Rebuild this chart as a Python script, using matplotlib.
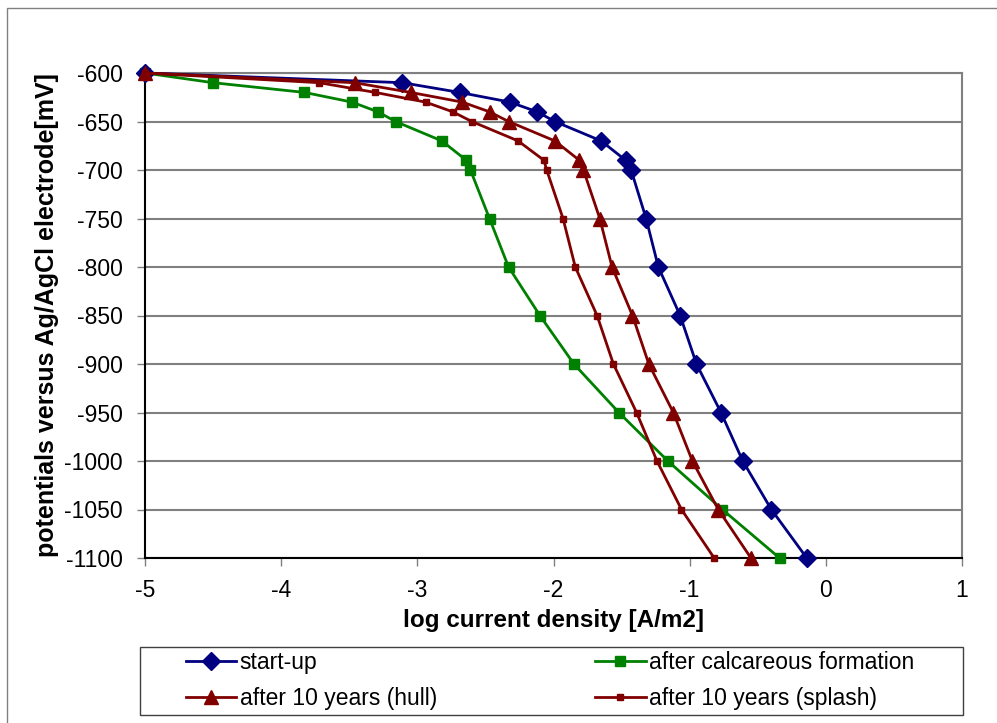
import matplotlib
matplotlib.use("Agg")
import matplotlib.pyplot as plt
from matplotlib.patches import Rectangle

plt.rcParams['font.family'] = ['Liberation Sans', 'DejaVu Sans']
plt.rcParams['axes.unicode_minus'] = False

# ----------------------
# Datos
# ----------------------
startup_x = [-5.0, -3.11, -2.69, -2.32, -2.12, -1.99, -1.65, -1.47, -1.43, -1.32,
             -1.23, -1.07, -0.95, -0.77, -0.61, -0.40, -0.14]
startup_y = [-600, -610, -620, -630, -640, -650, -670, -690, -700, -750,
             -800, -850, -900, -950, -1000, -1050, -1100]

calc_x = [-5.0, -4.50, -3.83, -3.48, -3.29, -3.16, -2.82, -2.64, -2.61, -2.47,
          -2.33, -2.10, -1.85, -1.52, -1.16, -0.76, -0.34]
calc_y = [-600, -610, -620, -630, -640, -650, -670, -690, -700, -750,
          -800, -850, -900, -950, -1000, -1050, -1100]

hull_x = [-5.0, -3.46, -3.05, -2.67, -2.47, -2.33, -1.99, -1.81, -1.78, -1.66,
          -1.57, -1.42, -1.30, -1.12, -0.98, -0.79, -0.55]
hull_y = [-600, -610, -620, -630, -640, -650, -670, -690, -700, -750,
          -800, -850, -900, -950, -1000, -1050, -1100]

splash_x = [-5.0, -3.72, -3.31, -2.94, -2.74, -2.60, -2.26, -2.07, -2.05, -1.93,
            -1.84, -1.68, -1.56, -1.39, -1.24, -1.06, -0.82]
splash_y = [-600, -610, -620, -630, -640, -650, -670, -690, -700, -750,
            -800, -850, -900, -950, -1000, -1050, -1100]

x_ticks = [-5, -4, -3, -2, -1, 0, 1]
y_ticks = list(range(-1100, -599, 50))

# ----------------------
# Figura
# ----------------------
W, H = 997, 723
fig = plt.figure(figsize=(W / 100, H / 100), dpi=100)
ax = fig.add_axes([145 / W, 1 - 558 / H, (962 - 145) / W, (558 - 73) / H])

# marco exterior del area del grafico
fig.patches.append(Rectangle((7 / W, -0.1), 1.1, 1 - 8 / H + 0.1,
                             transform=fig.transFigure, fill=False,
                             edgecolor="#808080", lw=1.0, zorder=0))
# marco de la leyenda
fig.patches.append(Rectangle((140 / W, 1 - 715 / H), 823 / W, 68 / H,
                             transform=fig.transFigure, fill=False,
                             edgecolor="#404040", lw=1.0, zorder=0))

ax.plot(startup_x, startup_y, color="#000080", lw=2, marker="D", ms=9,
        label="start-up", zorder=4, clip_on=False)
ax.plot(hull_x, hull_y, color="#800000", lw=2, marker="^", ms=10,
        label="after 10 years (hull)", zorder=4, clip_on=False)
ax.plot(calc_x, calc_y, color="#008000", lw=2, marker="s", ms=7,
        label="after calcareous formation", zorder=3, clip_on=False)
ax.plot(splash_x, splash_y, color="#800000", lw=2, marker="s", ms=5,
        label="after 10 years (splash)", zorder=4, clip_on=False)

ax.set_xlim(-5, 1)
ax.set_ylim(-1100, -600)
ax.set_xticks(x_ticks)
ax.set_yticks(y_ticks)
ax.tick_params(axis="both", labelsize=16.5, length=6, color="#808080", width=1)
ax.tick_params(axis="y", pad=10)
ax.tick_params(axis="x", pad=9)

ax.yaxis.grid(True, color="#808080", lw=1.5)
ax.set_axisbelow(True)
for side in ["top", "right"]:
    ax.spines[side].set_color("#808080")
    ax.spines[side].set_linewidth(1.5)
for side in ["left", "bottom"]:
    ax.spines[side].set_color("black")
    ax.spines[side].set_linewidth(1.5)

ax.set_xlabel("log current density [A/m2]", fontsize=17.5, fontweight="bold", labelpad=5)
ax.set_ylabel("potentials versus Ag/AgCl electrode[mV]", fontsize=18,
              fontweight="bold", labelpad=4)

leg = fig.legend(loc="center left",
                 bbox_to_anchor=(186 / W, 1 - 680.5 / H),
                 ncol=2, fontsize=16.5, frameon=False,
                 borderpad=0, borderaxespad=0,
                 handlelength=2.2, handletextpad=0.15, labelspacing=0.55,
                 columnspacing=6.9)

fig.savefig("out.png", dpi=100)
